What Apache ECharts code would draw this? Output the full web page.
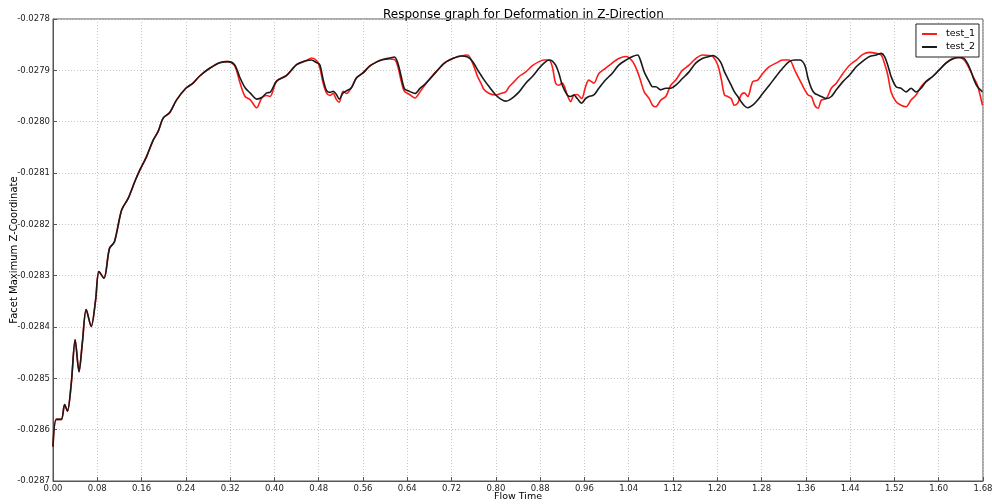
<!DOCTYPE html>
<html>
<head>
<meta charset="utf-8">
<script src="https://cdn.jsdelivr.net/npm/echarts@6/dist/echarts.min.js"></script>
<style>
html,body{margin:0;padding:0;background:#fff;}
#chart{width:992px;height:504px;}
</style>
</head>
<body>
<div id="chart"></div>
<script>
var flowTime = [0.000,0.006,0.015,0.021,0.026,0.033,0.040,0.047,0.053,0.060,0.069,0.077,0.083,0.092,0.102,0.111,0.124,0.136,0.148,0.157,0.169,0.181,0.190,0.199,0.211,0.223,0.240,0.253,0.265,0.283,0.301,0.316,0.328,0.338,0.347,0.356,0.368,0.377,0.386,0.392,0.404,0.422,0.440,0.458,0.467,0.476,0.482,0.488,0.494,0.500,0.506,0.512,0.517,0.524,0.530,0.539,0.548,0.560,0.572,0.584,0.596,0.608,0.617,0.623,0.629,0.635,0.644,0.654,0.663,0.674,0.692,0.707,0.722,0.737,0.749,0.758,0.767,0.773,0.779,0.788,0.800,0.809,0.818,0.824,0.833,0.842,0.854,0.866,0.878,0.887,0.896,0.902,0.908,0.914,0.920,0.929,0.935,0.941,0.947,0.955,0.962,0.968,0.977,0.986,0.998,1.010,1.022,1.035,1.047,1.056,1.062,1.068,1.077,1.083,1.089,1.098,1.107,1.116,1.125,1.137,1.149,1.161,1.173,1.185,1.192,1.201,1.207,1.213,1.219,1.225,1.231,1.237,1.243,1.249,1.255,1.264,1.273,1.282,1.294,1.306,1.318,1.330,1.340,1.349,1.358,1.364,1.370,1.376,1.382,1.388,1.397,1.406,1.415,1.427,1.439,1.451,1.463,1.475,1.487,1.496,1.502,1.508,1.514,1.523,1.532,1.541,1.550,1.559,1.568,1.577,1.589,1.601,1.613,1.625,1.637,1.646,1.655,1.664,1.670,1.679];

var test1 = [-0.028633,-0.02858,-0.02858,-0.028551,-0.028564,-0.02851,-0.028425,-0.028487,-0.028431,-0.028366,-0.028399,-0.028347,-0.028292,-0.028305,-0.028247,-0.028234,-0.028172,-0.028149,-0.028116,-0.028094,-0.028068,-0.028036,-0.028019,-0.027993,-0.027982,-0.027958,-0.027935,-0.027925,-0.027911,-0.027896,-0.027885,-0.027883,-0.027891,-0.027925,-0.027951,-0.027957,-0.027973,-0.027954,-0.027949,-0.027951,-0.027921,-0.02791,-0.027889,-0.027881,-0.027876,-0.027881,-0.027895,-0.027925,-0.027944,-0.027949,-0.027945,-0.027957,-0.027962,-0.027941,-0.027945,-0.027934,-0.027915,-0.027905,-0.027892,-0.027884,-0.027879,-0.027878,-0.027879,-0.027893,-0.027921,-0.027941,-0.027947,-0.027954,-0.027942,-0.027925,-0.027903,-0.027886,-0.027877,-0.027872,-0.02787,-0.027886,-0.027912,-0.027925,-0.027938,-0.027945,-0.027948,-0.027945,-0.027942,-0.027932,-0.027922,-0.027912,-0.027903,-0.027891,-0.027883,-0.02788,-0.02788,-0.027893,-0.027925,-0.027929,-0.027925,-0.027948,-0.027961,-0.027948,-0.027947,-0.027955,-0.027932,-0.027919,-0.027925,-0.027906,-0.027896,-0.027886,-0.027877,-0.027873,-0.027883,-0.027903,-0.027922,-0.027942,-0.027955,-0.027968,-0.027971,-0.027958,-0.027951,-0.027929,-0.027919,-0.0279,-0.02789,-0.027877,-0.02787,-0.027871,-0.027873,-0.02789,-0.027916,-0.027948,-0.027951,-0.027955,-0.027968,-0.027964,-0.027948,-0.027944,-0.027951,-0.027922,-0.027919,-0.027906,-0.027893,-0.027886,-0.02788,-0.02788,-0.0279,-0.027919,-0.027938,-0.027948,-0.027951,-0.027968,-0.027974,-0.027958,-0.027955,-0.027935,-0.027925,-0.027906,-0.02789,-0.02788,-0.027869,-0.027865,-0.027867,-0.02787,-0.027886,-0.027909,-0.027942,-0.027961,-0.027968,-0.027971,-0.027958,-0.027948,-0.027932,-0.027922,-0.027912,-0.027899,-0.027886,-0.027877,-0.027875,-0.02788,-0.027896,-0.027916,-0.027929,-0.027968];

var test2 = [-0.028633,-0.02858,-0.02858,-0.028551,-0.028564,-0.02851,-0.028425,-0.028487,-0.028431,-0.028366,-0.028399,-0.028347,-0.028292,-0.028305,-0.028247,-0.028234,-0.028172,-0.028149,-0.028116,-0.028094,-0.028068,-0.028036,-0.028019,-0.027993,-0.027982,-0.027958,-0.027935,-0.027925,-0.027911,-0.027896,-0.027885,-0.027883,-0.027889,-0.027915,-0.027934,-0.027944,-0.027956,-0.027953,-0.027944,-0.027943,-0.027921,-0.02791,-0.027889,-0.027881,-0.02788,-0.027885,-0.027889,-0.027918,-0.027939,-0.027943,-0.027941,-0.027947,-0.027956,-0.027944,-0.02794,-0.027934,-0.027915,-0.027905,-0.027892,-0.027884,-0.027879,-0.027876,-0.027874,-0.027886,-0.027912,-0.027936,-0.027941,-0.027945,-0.027935,-0.027925,-0.027903,-0.027886,-0.027877,-0.027872,-0.027874,-0.027883,-0.027899,-0.027909,-0.027919,-0.027932,-0.027948,-0.027956,-0.02796,-0.027958,-0.027951,-0.027942,-0.027925,-0.027912,-0.027896,-0.027886,-0.02788,-0.027882,-0.02789,-0.027906,-0.027929,-0.027948,-0.027951,-0.027948,-0.027955,-0.027964,-0.027955,-0.027951,-0.027948,-0.027935,-0.027919,-0.027906,-0.02789,-0.02788,-0.027873,-0.02787,-0.027883,-0.027903,-0.027922,-0.027932,-0.027932,-0.027938,-0.027935,-0.027935,-0.027929,-0.027916,-0.027903,-0.027886,-0.027877,-0.027873,-0.027871,-0.027877,-0.027886,-0.027903,-0.027916,-0.027929,-0.027942,-0.027951,-0.027961,-0.027969,-0.027973,-0.027968,-0.027958,-0.027945,-0.027929,-0.027912,-0.027896,-0.027883,-0.02788,-0.02788,-0.02789,-0.027916,-0.027935,-0.027945,-0.027948,-0.027951,-0.027955,-0.027951,-0.027938,-0.027922,-0.027909,-0.027893,-0.027882,-0.027873,-0.02787,-0.027867,-0.027873,-0.02789,-0.027912,-0.027932,-0.027935,-0.027942,-0.027935,-0.027942,-0.027935,-0.027922,-0.027912,-0.027899,-0.027886,-0.027878,-0.027875,-0.027877,-0.027893,-0.027919,-0.027932,-0.027942];

var seriesNames = ['test_1', 'test_2'];
var titleText = 'Response graph for Deformation in Z-Direction';
var xName = 'Flow Time';
var yName = 'Facet Maximum Z-Coordinate';

function pairs(xs, ys) { return xs.map(function (x, i) { return [x, ys[i]]; }); }

var FONT = 'DejaVu Sans';
var chart = echarts.init(document.getElementById('chart'), null, {renderer: 'canvas'});
chart.setOption({
  animation: false,
  backgroundColor: '#ffffff',
  textStyle: {fontFamily: FONT},
  title: {
    text: titleText, left: 378, top: 4,
    textStyle: {fontFamily: FONT, fontSize: 12, fontWeight: 'normal', color: '#000'}
  },
  legend: {
    data: seriesNames, orient: 'vertical', right: 13, top: 24,
    backgroundColor: '#fff', borderColor: '#222', borderWidth: 1, borderRadius: 0,
    padding: [5, 4, 5, 6], itemGap: 3, itemWidth: 15, itemHeight: 2,
    icon: 'rect',
    textStyle: {fontFamily: FONT, fontSize: 9.5, color: '#000', padding: [0, 0, 0, 4]}
  },
  grid: {left: 53, right: 9, top: 19, bottom: 23, containLabel: false, outerBoundsMode: 'none',
         show: true, borderColor: '#555', borderWidth: 1, backgroundColor: 'transparent'},
  xAxis: {
    type: 'value', min: 0, max: 1.68, interval: 0.08,
    name: xName, nameLocation: 'middle', nameGap: 11, nameMoveOverlap: false,
    nameTextStyle: {fontFamily: FONT, fontSize: 9.5, color: '#000'},
    axisLine: {lineStyle: {color: '#555', width: 1}},
    axisTick: {inside: true, length: 4, lineStyle: {color: '#555'}},
    axisLabel: {fontFamily: FONT, fontSize: 8.5, color: '#222', margin: 3, formatter: function (v) { return v.toFixed(2); }},
    splitLine: {show: true, lineStyle: {color: '#c8c8c8', type: [1, 2], width: 1}}
  },
  yAxis: {
    type: 'value', min: -0.0287, max: -0.0278, interval: 0.0001,
    name: yName, nameLocation: 'middle', nameGap: 34, nameRotate: 90, nameMoveOverlap: false,
    nameTextStyle: {fontFamily: FONT, fontSize: 10, color: '#000'},
    axisLine: {show: true, lineStyle: {color: '#555', width: 1}},
    axisTick: {show: true, inside: true, length: 4, lineStyle: {color: '#555'}},
    axisLabel: {fontFamily: FONT, fontSize: 8.5, color: '#222', margin: 3, formatter: function (v) { return v.toFixed(4); }},
    splitLine: {show: true, lineStyle: {color: '#c8c8c8', type: [1, 2], width: 1}}
  },
  series: [
    {name: seriesNames[0], type: 'line', data: pairs(flowTime, test1), showSymbol: false, symbol: 'none', smooth: 0.3,
     lineStyle: {color: '#ff1a1a', width: 1.6}, itemStyle: {color: '#ff1a1a'}, z: 2},
    {name: seriesNames[1], type: 'line', data: pairs(flowTime, test2), showSymbol: false, symbol: 'none', smooth: 0.3,
     lineStyle: {color: '#1a1a1a', width: 1.6}, itemStyle: {color: '#1a1a1a'}, z: 3}
  ]
});
</script>
</body>
</html>
